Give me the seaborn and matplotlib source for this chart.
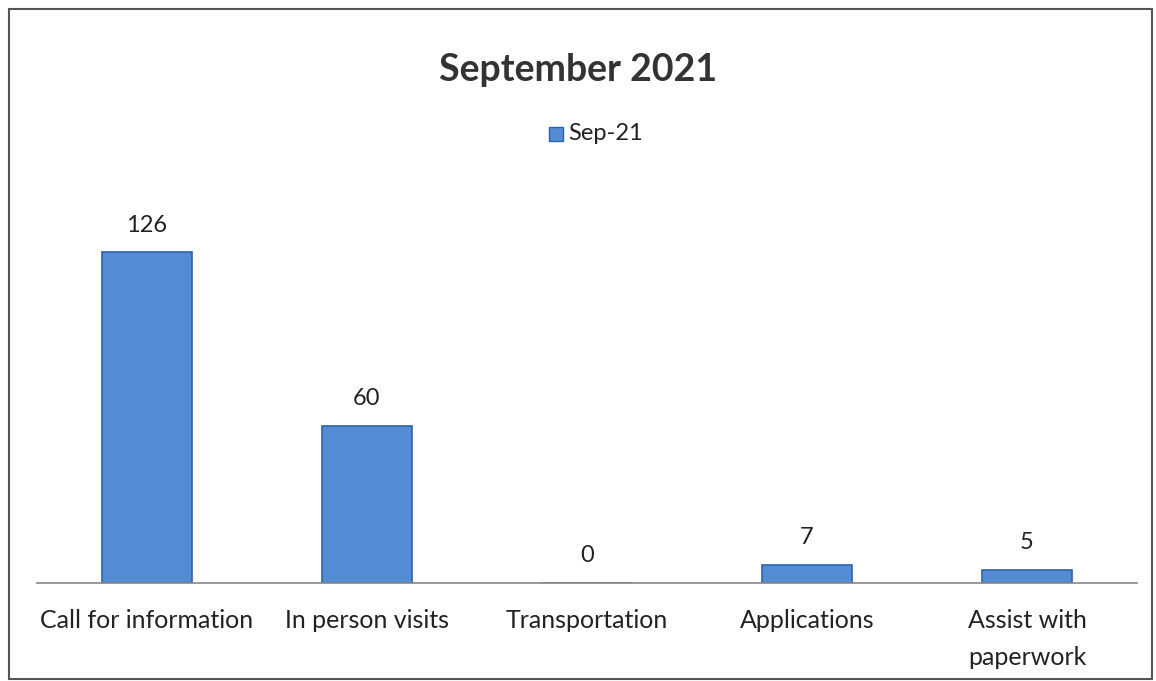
import matplotlib
matplotlib.use("Agg")
import matplotlib.pyplot as plt
import seaborn as sns
import pandas as pd
from matplotlib.patches import Rectangle

categories = ["Call for information", "In person visits", "Transportation",
              "Applications", "Assist with\npaperwork"]
values = [126, 60, 0, 7, 5]
series_name = "Sep-21"
title = "September 2021"

sns.set_style("white")
plt.rcParams['font.family'] = ['Lato', 'DejaVu Sans']

df = pd.DataFrame({"category": categories, "count": values, "series": series_name})

fig = plt.figure(figsize=(11.56, 6.81), dpi=100)
ax = fig.add_axes([37/1156, 1 - 583/681, 1100/1156, 370/681])

sns.barplot(data=df, x="category", y="count", hue="series", ax=ax,
            palette=["#548cd3"], edgecolor="#2f62a8", linewidth=1.2,
            width=0.41, saturation=1, legend=False)

ax.set_xlim(-0.5, 4.5)
ax.set_ylim(0, 141)
for s in ["top", "right", "left"]:
    ax.spines[s].set_visible(False)
ax.spines["bottom"].set_color("#888888")
ax.spines["bottom"].set_linewidth(1.2)
ax.set_yticks([])
ax.set_xlabel("")
ax.set_ylabel("")
ax.tick_params(axis="x", length=0, pad=19, labelsize=18, labelcolor="#222222")
for lbl in ax.get_xticklabels():
    lbl.set_linespacing(1.7)

for i, v in enumerate(values):
    ax.annotate(str(v), (i, v), xytext=(0, 12), textcoords="offset points",
                ha="center", va="bottom", fontsize=17, color="#222222")

fig.text(0.5, 1 - 70/681, title, ha="center", va="center",
         fontsize=27, fontweight="bold", color="#333333")

# legend
fig.patches.append(Rectangle((549/1156, 1 - 141/681), 14/1156, 14/681,
                             transform=fig.transFigure, facecolor="#548cd3",
                             edgecolor="#2f62a8", linewidth=1))
fig.text(568/1156, 1 - 133/681, series_name, ha="left", va="center",
         fontsize=17, color="#222222")

# chart border
fig.patches.append(Rectangle((9/1156, 2/681), 1143/1156, 670/681,
                             transform=fig.transFigure, fill=False,
                             edgecolor="#555555", linewidth=1.5))

plt.savefig("out.png", dpi=100)
